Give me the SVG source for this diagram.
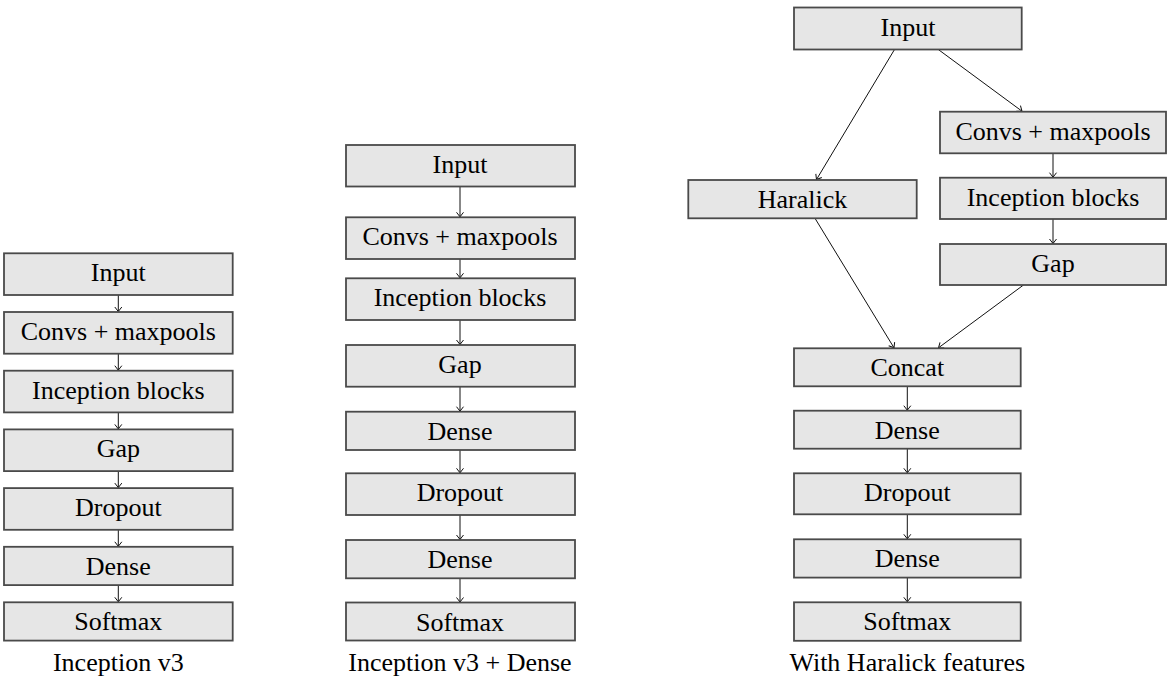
<svg xmlns="http://www.w3.org/2000/svg" width="1167" height="681" viewBox="0 0 1167 681">
<style>
.box{fill:#e6e6e6;stroke:#4a4a4a;stroke-width:1.8}
.t{font-family:'Liberation Serif',serif;font-size:26px;fill:#000;text-anchor:middle}
.e{stroke:#111;stroke-width:1;fill:none;marker-end:url(#ah)}
</style>
<defs>
<marker id="ah" markerUnits="userSpaceOnUse" markerWidth="10" markerHeight="10" viewBox="-6 -5 7 10" refX="0" refY="0" orient="auto">
<path d="M-4.5,-3.5 L0,0 L-4.5,3.5" fill="none" stroke="#111" stroke-width="1"/>
</marker>
</defs>
<rect width="1167" height="681" fill="#fff"/>

<g id="connectors">
<line class="e" x1="118.3" y1="295" x2="118.3" y2="311.5"/>
<line class="e" x1="118.3" y1="353.7" x2="118.3" y2="370.2"/>
<line class="e" x1="118.3" y1="412.4" x2="118.3" y2="428.9"/>
<line class="e" x1="118.3" y1="471.1" x2="118.3" y2="487.6"/>
<line class="e" x1="118.3" y1="529.8" x2="118.3" y2="546.3"/>
<line class="e" x1="118.3" y1="585.1" x2="118.3" y2="601.8"/>
<line class="e" x1="460" y1="186.5" x2="460" y2="216.8"/>
<line class="e" x1="460" y1="259" x2="460" y2="277.8"/>
<line class="e" x1="460" y1="320" x2="460" y2="344.5"/>
<line class="e" x1="460" y1="386.7" x2="460" y2="411.2"/>
<line class="e" x1="460" y1="450" x2="460" y2="472.8"/>
<line class="e" x1="460" y1="515" x2="460" y2="539.5"/>
<line class="e" x1="460" y1="578.3" x2="460" y2="602"/>
<line class="e" x1="894.5" y1="49.5" x2="816.5" y2="179.5"/>
<line class="e" x1="938.3" y1="49.5" x2="1022" y2="111.2"/>
<line class="e" x1="1053" y1="153.3" x2="1053" y2="177.2"/>
<line class="e" x1="1053" y1="219" x2="1053" y2="243.5"/>
<line class="e" x1="815" y1="218.3" x2="894" y2="347.8"/>
<line class="e" x1="1023.5" y1="285" x2="938.5" y2="347.8"/>
<line class="e" x1="907.3" y1="386.3" x2="907.3" y2="410.2"/>
<line class="e" x1="907.3" y1="448.7" x2="907.3" y2="472.8"/>
<line class="e" x1="907.3" y1="514.3" x2="907.3" y2="538.8"/>
<line class="e" x1="907.3" y1="577.6" x2="907.3" y2="601.8"/>
</g>

<g id="c1-input"><rect class="box" x="4" y="253.3" width="228.7" height="41.7"/><text class="t" x="118.3" y="281.3">Input</text></g>
<g id="c1-convs"><rect class="box" x="4" y="312" width="228.7" height="41.7"/><text class="t" x="118.3" y="340">Convs + maxpools</text></g>
<g id="c1-inception"><rect class="box" x="4" y="370.7" width="228.7" height="41.7"/><text class="t" x="118.3" y="398.7">Inception blocks</text></g>
<g id="c1-gap"><rect class="box" x="4" y="429.4" width="228.7" height="41.7"/><text class="t" x="118.3" y="457.4">Gap</text></g>
<g id="c1-dropout"><rect class="box" x="4" y="488.1" width="228.7" height="41.7"/><text class="t" x="118.3" y="516.1">Dropout</text></g>
<g id="c1-dense"><rect class="box" x="4" y="546.8" width="228.7" height="38.3"/><text class="t" x="118.3" y="574.8">Dense</text></g>
<g id="c1-softmax"><rect class="box" x="4" y="602.3" width="228.7" height="38.3"/><text class="t" x="118.3" y="630.3">Softmax</text></g>
<text id="cap1" class="t" x="118.3" y="671">Inception v3</text>

<g id="c2-input"><rect class="box" x="346" y="145" width="229" height="41.5"/><text class="t" x="460" y="173">Input</text></g>
<g id="c2-convs"><rect class="box" x="346" y="217.3" width="229" height="41.7"/><text class="t" x="460" y="245.3">Convs + maxpools</text></g>
<g id="c2-inception"><rect class="box" x="346" y="278.3" width="229" height="41.7"/><text class="t" x="460" y="306.3">Inception blocks</text></g>
<g id="c2-gap"><rect class="box" x="346" y="345" width="229" height="41.7"/><text class="t" x="460" y="373">Gap</text></g>
<g id="c2-dense1"><rect class="box" x="346" y="411.7" width="229" height="38.3"/><text class="t" x="460" y="439.7">Dense</text></g>
<g id="c2-dropout"><rect class="box" x="346" y="473.3" width="229" height="41.7"/><text class="t" x="460" y="501.3">Dropout</text></g>
<g id="c2-dense2"><rect class="box" x="346" y="540" width="229" height="38.3"/><text class="t" x="460" y="568">Dense</text></g>
<g id="c2-softmax"><rect class="box" x="346" y="602.5" width="229" height="38"/><text class="t" x="460" y="630.5">Softmax</text></g>
<text id="cap2" class="t" x="460" y="671">Inception v3 + Dense</text>

<g id="c3-input"><rect class="box" x="794" y="7.5" width="227.7" height="42"/><text class="t" x="908" y="35.5">Input</text></g>
<g id="c3-convs"><rect class="box" x="940" y="111.7" width="226" height="41.6"/><text class="t" x="1053" y="139.7">Convs + maxpools</text></g>
<g id="c3-inception"><rect class="box" x="940" y="177.7" width="226" height="41.3"/><text class="t" x="1053" y="205.7">Inception blocks</text></g>
<g id="c3-gap"><rect class="box" x="940" y="244" width="226" height="41"/><text class="t" x="1053" y="272">Gap</text></g>
<g id="c3-haralick"><rect class="box" x="688.3" y="180" width="228.4" height="38.3"/><text class="t" x="802.5" y="208">Haralick</text></g>
<g id="c3-concat"><rect class="box" x="794" y="348.3" width="226.7" height="38"/><text class="t" x="907.3" y="376.3">Concat</text></g>
<g id="c3-dense1"><rect class="box" x="794" y="410.7" width="226.7" height="38"/><text class="t" x="907.3" y="438.7">Dense</text></g>
<g id="c3-dropout"><rect class="box" x="794" y="473.3" width="226.7" height="41"/><text class="t" x="907.3" y="501.3">Dropout</text></g>
<g id="c3-dense2"><rect class="box" x="794" y="539.3" width="226.7" height="38.3"/><text class="t" x="907.3" y="567.3">Dense</text></g>
<g id="c3-softmax"><rect class="box" x="794" y="602.3" width="226.7" height="38.5"/><text class="t" x="907.3" y="630.3">Softmax</text></g>
<text id="cap3" class="t" x="907.3" y="671">With Haralick features</text>
</svg>
